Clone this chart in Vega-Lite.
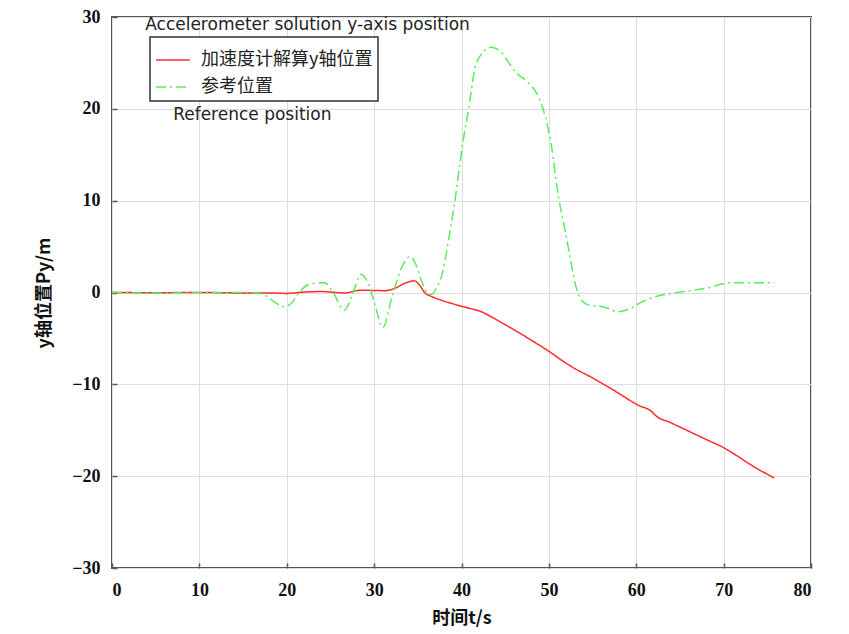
{
  "$schema": "https://vega.github.io/schema/vega-lite/v6.json",
  "width": 699,
  "height": 551,
  "autosize": {"type": "none"},
  "padding": {"left": 112, "top": 17, "right": 38, "bottom": 66},
  "background": "white",
  "config": {
    "view": {"stroke": "#555555", "strokeWidth": 2},
    "axis": {
      "grid": true,
      "gridColor": "#dddddd",
      "gridWidth": 1,
      "domain": false,
      "ticks": true,
      "tickSize": -5,
      "tickColor": "#555555",
      "tickWidth": 1.5,
      "labelFont": "Liberation Serif",
      "labelFontWeight": "bold",
      "labelFontSize": 18,
      "labelColor": "#111111",
      "titleFont": "Noto Sans CJK SC",
      "titleFontWeight": "bold",
      "titleFontSize": 18,
      "titleColor": "#111111"
    },
    "legend": {
      "orient": "none",
      "legendX": 38,
      "legendY": 20,
      "title": null,
      "strokeColor": "#333333",
      "strokeWidth": 1.5,
      "fillColor": "white",
      "padding": 5,
      "symbolType": "stroke",
      "symbolSize": 1150,
      "symbolStrokeWidth": 1.5,
      "labelFont": "Noto Sans CJK SC",
      "labelFontSize": 18,
      "labelOffset": 10,
      "labelLimit": 400,
      "labelColor": "#222222",
      "rowPadding": 0
    }
  },
  "datasets": {
    "lines": [
      {"t": 0, "y": 0.0, "series": "加速度计解算y轴位置"},
      {"t": 5, "y": -0.02, "series": "加速度计解算y轴位置"},
      {"t": 10, "y": 0.0, "series": "加速度计解算y轴位置"},
      {"t": 15, "y": -0.05, "series": "加速度计解算y轴位置"},
      {"t": 18, "y": -0.05, "series": "加速度计解算y轴位置"},
      {"t": 20, "y": -0.1, "series": "加速度计解算y轴位置"},
      {"t": 22, "y": 0.05, "series": "加速度计解算y轴位置"},
      {"t": 24, "y": 0.1, "series": "加速度计解算y轴位置"},
      {"t": 26.6, "y": -0.05, "series": "加速度计解算y轴位置"},
      {"t": 28.5, "y": 0.25, "series": "加速度计解算y轴位置"},
      {"t": 31.2, "y": 0.2, "series": "加速度计解算y轴位置"},
      {"t": 32.5, "y": 0.5, "series": "加速度计解算y轴位置"},
      {"t": 33.5, "y": 1.0, "series": "加速度计解算y轴位置"},
      {"t": 34.6, "y": 1.27, "series": "加速度计解算y轴位置"},
      {"t": 35.2, "y": 0.8, "series": "加速度计解算y轴位置"},
      {"t": 35.8, "y": -0.03, "series": "加速度计解算y轴位置"},
      {"t": 36.5, "y": -0.4, "series": "加速度计解算y轴位置"},
      {"t": 37.7, "y": -0.84, "series": "加速度计解算y轴位置"},
      {"t": 38.9, "y": -1.2, "series": "加速度计解算y轴位置"},
      {"t": 40, "y": -1.5, "series": "加速度计解算y轴位置"},
      {"t": 41, "y": -1.75, "series": "加速度计解算y轴位置"},
      {"t": 42.3, "y": -2.1, "series": "加速度计解算y轴位置"},
      {"t": 43.5, "y": -2.7, "series": "加速度计解算y轴位置"},
      {"t": 45, "y": -3.5, "series": "加速度计解算y轴位置"},
      {"t": 46.1, "y": -4.1, "series": "加速度计解算y轴位置"},
      {"t": 48, "y": -5.2, "series": "加速度计解算y轴位置"},
      {"t": 50, "y": -6.4, "series": "加速度计解算y轴位置"},
      {"t": 51.5, "y": -7.4, "series": "加速度计解算y轴位置"},
      {"t": 53, "y": -8.3, "series": "加速度计解算y轴位置"},
      {"t": 55, "y": -9.3, "series": "加速度计解算y轴位置"},
      {"t": 57, "y": -10.4, "series": "加速度计解算y轴位置"},
      {"t": 60.3, "y": -12.3, "series": "加速度计解算y轴位置"},
      {"t": 61.8, "y": -13.0, "series": "加速度计解算y轴位置"},
      {"t": 62.1, "y": -13.3, "series": "加速度计解算y轴位置"},
      {"t": 64, "y": -14.2, "series": "加速度计解算y轴位置"},
      {"t": 66, "y": -15.1, "series": "加速度计解算y轴位置"},
      {"t": 68, "y": -16.0, "series": "加速度计解算y轴位置"},
      {"t": 70.2, "y": -17.0, "series": "加速度计解算y轴位置"},
      {"t": 71.4, "y": -17.7, "series": "加速度计解算y轴位置"},
      {"t": 73, "y": -18.7, "series": "加速度计解算y轴位置"},
      {"t": 75.8, "y": -20.2, "series": "加速度计解算y轴位置"},
      {"t": 0, "y": 0.0, "series": "参考位置"},
      {"t": 5, "y": -0.05, "series": "参考位置"},
      {"t": 10, "y": -0.02, "series": "参考位置"},
      {"t": 16, "y": 0.0, "series": "参考位置"},
      {"t": 17.5, "y": -0.3, "series": "参考位置"},
      {"t": 19, "y": -1.3, "series": "参考位置"},
      {"t": 19.7, "y": -1.56, "series": "参考位置"},
      {"t": 20.5, "y": -1.2, "series": "参考位置"},
      {"t": 21.5, "y": 0.1, "series": "参考位置"},
      {"t": 22.8, "y": 0.98, "series": "参考位置"},
      {"t": 24.3, "y": 1.05, "series": "参考位置"},
      {"t": 25.2, "y": 0.2, "series": "参考位置"},
      {"t": 26.6, "y": -1.93, "series": "参考位置"},
      {"t": 27.5, "y": -0.3, "series": "参考位置"},
      {"t": 28.5, "y": 2.0, "series": "参考位置"},
      {"t": 29.3, "y": 1.0, "series": "参考位置"},
      {"t": 30, "y": -1.0, "series": "参考位置"},
      {"t": 31.0, "y": -3.8, "series": "参考位置"},
      {"t": 32.1, "y": -0.3, "series": "参考位置"},
      {"t": 33.2, "y": 2.8, "series": "参考位置"},
      {"t": 34.1, "y": 3.9, "series": "参考位置"},
      {"t": 34.8, "y": 3.0, "series": "参考位置"},
      {"t": 35.4, "y": 1.3, "series": "参考位置"},
      {"t": 36.0, "y": 0.1, "series": "参考位置"},
      {"t": 36.6, "y": -0.2, "series": "参考位置"},
      {"t": 37.2, "y": 0.6, "series": "参考位置"},
      {"t": 37.7, "y": 1.7, "series": "参考位置"},
      {"t": 38.5, "y": 5.6, "series": "参考位置"},
      {"t": 39.2, "y": 9.7, "series": "参考位置"},
      {"t": 40.2, "y": 16.6, "series": "参考位置"},
      {"t": 40.8, "y": 19.9, "series": "参考位置"},
      {"t": 41.5, "y": 24.2, "series": "参考位置"},
      {"t": 42.3, "y": 26.0, "series": "参考位置"},
      {"t": 43.4, "y": 26.7, "series": "参考位置"},
      {"t": 44.6, "y": 26.1, "series": "参考位置"},
      {"t": 45.3, "y": 25.2, "series": "参考位置"},
      {"t": 46.1, "y": 24.1, "series": "参考位置"},
      {"t": 47.7, "y": 22.8, "series": "参考位置"},
      {"t": 48.6, "y": 21.7, "series": "参考位置"},
      {"t": 49.6, "y": 19.1, "series": "参考位置"},
      {"t": 50.3, "y": 15.9, "series": "参考位置"},
      {"t": 51.1, "y": 10.4, "series": "参考位置"},
      {"t": 51.7, "y": 7.5, "series": "参考位置"},
      {"t": 52.3, "y": 4.5, "series": "参考位置"},
      {"t": 53.0, "y": 1.0, "series": "参考位置"},
      {"t": 53.8, "y": -0.9, "series": "参考位置"},
      {"t": 54.5, "y": -1.35, "series": "参考位置"},
      {"t": 56.1, "y": -1.55, "series": "参考位置"},
      {"t": 57.0, "y": -1.8, "series": "参考位置"},
      {"t": 57.8, "y": -2.1, "series": "参考位置"},
      {"t": 59.2, "y": -1.8, "series": "参考位置"},
      {"t": 60.7, "y": -1.0, "series": "参考位置"},
      {"t": 62, "y": -0.5, "series": "参考位置"},
      {"t": 64.1, "y": -0.1, "series": "参考位置"},
      {"t": 66.1, "y": 0.2, "series": "参考位置"},
      {"t": 68.4, "y": 0.55, "series": "参考位置"},
      {"t": 70.6, "y": 1.05, "series": "参考位置"},
      {"t": 72.9, "y": 1.05, "series": "参考位置"},
      {"t": 75.8, "y": 1.07, "series": "参考位置"}
    ],
    "notes": [
      {"t": 3.8, "y": 29.1, "label": "Accelerometer solution y-axis position"},
      {"t": 7.0, "y": 19.35, "label": "Reference position"}
    ]
  },
  "layer": [
    {
      "data": {"name": "lines"},
      "mark": {"type": "line", "strokeWidth": 1.5, "interpolate": "monotone"},
      "encoding": {
        "x": {
          "field": "t", "type": "quantitative",
          "scale": {"domain": [0, 80], "nice": false},
          "axis": {"values": [0, 10, 20, 30, 40, 50, 60, 70, 80], "title": "时间t/s", "labelPadding": 18, "titlePadding": 10}
        },
        "y": {
          "field": "y", "type": "quantitative",
          "scale": {"domain": [-30, 30], "nice": false},
          "axis": {"values": [-30, -20, -10, 0, 10, 20, 30], "title": "y轴位置Py/m", "labelPadding": 17, "titlePadding": 18}
        },
        "color": {
          "field": "series", "type": "nominal",
          "scale": {"domain": ["加速度计解算y轴位置", "参考位置"], "range": ["#ff2a2a", "#55ee55"]}
        },
        "strokeDash": {
          "field": "series", "type": "nominal",
          "scale": {"domain": ["加速度计解算y轴位置", "参考位置"], "range": [[1, 0], [10, 4, 2, 4]]}
        },
        "order": {"field": "t", "type": "quantitative"}
      }
    },
    {
      "data": {"name": "notes"},
      "mark": {"type": "text", "align": "left", "baseline": "middle", "font": "DejaVu Sans", "fontSize": 17, "color": "#222222"},
      "encoding": {
        "x": {"field": "t", "type": "quantitative"},
        "y": {"field": "y", "type": "quantitative"},
        "text": {"field": "label"}
      }
    }
  ]
}
